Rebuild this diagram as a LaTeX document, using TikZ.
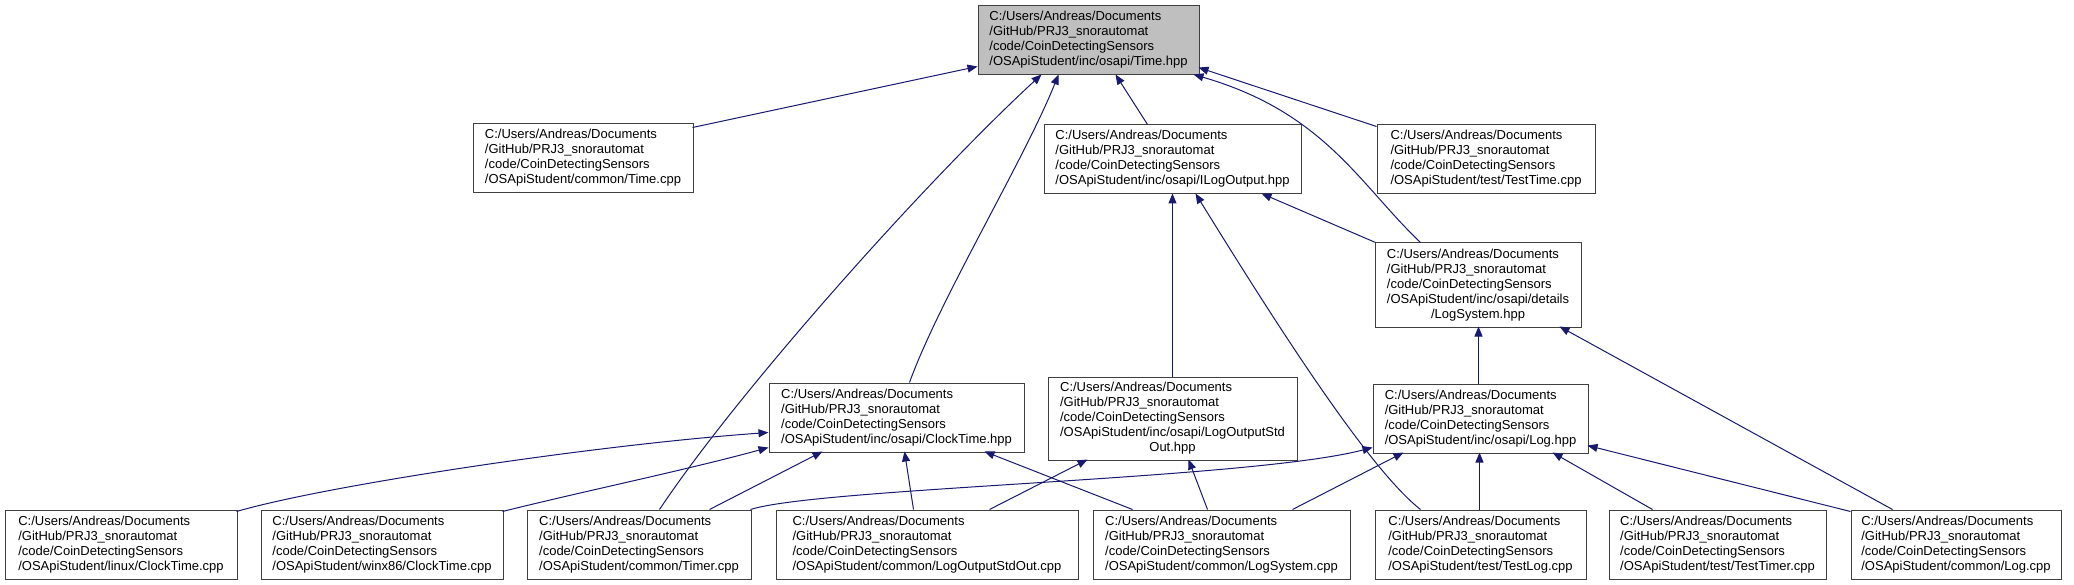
\documentclass[tikz,border=0pt]{standalone}
\usepackage{fontspec}
\setmainfont{Liberation Sans}
\usetikzlibrary{arrows.meta}
\definecolor{edgeblue}{RGB}{25,25,112}
\definecolor{boxline}{RGB}{64,64,64}
\definecolor{rootfill}{RGB}{191,191,191}
\newcommand\boxlbl[1]{\begin{tabular}{@{}l@{}}#1\end{tabular}}
\newcommand\pa{C:/Users/Andreas/Documents\\/GitHub/PRJ3\_snorautomat\\/code/CoinDetectingSensors\\}
\begin{document}
\begin{tikzpicture}[x=1pt,y=-1pt,
  filebox/.style={draw=boxline,line width=1pt,fill=white,rectangle,inner sep=0pt,
     font=\fontsize{13}{15}\selectfont,minimum height=69pt},
  dep/.style={draw=edgeblue,line width=1pt,-{Triangle[length=10pt,width=8pt]},fill=none}]
\useasboundingbox[fill=white] (0,0) rectangle (2074,585);
% nodes
\node[filebox,fill=rootfill,minimum width=221pt] (timehpp) at (1088.5,40.5) {\boxlbl{\pa/OSApiStudent/inc/osapi/Time.hpp}};
\node[filebox,minimum width=220pt] (timecpp) at (583,158.5) {\boxlbl{\pa/OSApiStudent/common/Time.cpp}};
\node[filebox,minimum width=257pt] (ilogout) at (1172.5,159.5) {\boxlbl{\pa/OSApiStudent/inc/osapi/ILogOutput.hpp}};
\node[filebox,minimum width=218pt] (testtime) at (1486,159.5) {\boxlbl{\pa/OSApiStudent/test/TestTime.cpp}};
\node[filebox,minimum width=206pt,minimum height=84pt] (logsyshpp) at (1478,285) {\boxlbl{\pa/OSApiStudent/inc/osapi/details\\\multicolumn{1}{@{}c@{}}{/LogSystem.hpp}}};
\node[filebox,minimum width=255pt] (clockhpp) at (896.5,417.5) {\boxlbl{\pa/OSApiStudent/inc/osapi/ClockTime.hpp}};
\node[filebox,minimum width=249pt,minimum height=83pt] (stdouthpp) at (1172.5,418.5) {\boxlbl{\pa/OSApiStudent/inc/osapi/LogOutputStd\\\multicolumn{1}{@{}c@{}}{Out.hpp}}};
\node[filebox,minimum width=215pt] (loghpp) at (1480.5,418.5) {\boxlbl{\pa/OSApiStudent/inc/osapi/Log.hpp}};
\node[filebox,minimum width=232pt] (linux) at (121,544.5) {\boxlbl{\pa/OSApiStudent/linux/ClockTime.cpp}};
\node[filebox,minimum width=242pt] (winx) at (382,544.5) {\boxlbl{\pa/OSApiStudent/winx86/ClockTime.cpp}};
\node[filebox,minimum width=224pt] (timer) at (639,544.5) {\boxlbl{\pa/OSApiStudent/common/Timer.cpp}};
\node[filebox,minimum width=302pt] (stdoutcpp) at (927,544.5) {\boxlbl{\pa/OSApiStudent/common/LogOutputStdOut.cpp}};
\node[filebox,minimum width=257pt] (logsyscpp) at (1221.5,544.5) {\boxlbl{\pa/OSApiStudent/common/LogSystem.cpp}};
\node[filebox,minimum width=211pt] (testlog) at (1480.5,544.5) {\boxlbl{\pa/OSApiStudent/test/TestLog.cpp}};
\node[filebox,minimum width=217pt] (testtimer) at (1717.5,544.5) {\boxlbl{\pa/OSApiStudent/test/TestTimer.cpp}};
\node[filebox,minimum width=210pt] (logcpp) at (1956,544.5) {\boxlbl{\pa/OSApiStudent/common/Log.cpp}};
% edges to Time.hpp
\draw[dep] ([xshift=220pt,yshift=-4pt]timecpp.north west) -- ([yshift=-61pt]timehpp.north west);
\draw[dep] ([xshift=133pt]timer.north west) .. controls +(80,-120) and +(-114,105) .. ([xshift=64pt,yshift=-69pt]timehpp.north west);
\draw[dep] ([xshift=141pt]clockhpp.north west) .. controls +(30,-83) and +(-34,85) .. ([xshift=81pt,yshift=-69pt]timehpp.north west);
\draw[dep] ([xshift=104pt]ilogout.north west) -- ([xshift=138pt,yshift=-69pt]timehpp.north west);
\draw[dep] ([xshift=46pt]logsyshpp.north west) .. controls +(-61,-58) and +(131,38) .. ([xshift=216pt,yshift=-69pt]timehpp.north west);
\draw[dep] ([yshift=-2pt]testtime.north west) -- ([xshift=221pt,yshift=-62pt]timehpp.north west);
% edges to ILogOutput.hpp
\draw[dep] ([xshift=125pt]stdouthpp.north west) -- ([xshift=129pt,yshift=-69pt]ilogout.north west);
\draw[dep] ([xshift=46pt]testlog.north west) .. controls +(-51,-40) and +(84,136) .. ([xshift=152pt,yshift=-69pt]ilogout.north west);
\draw[dep] ([xshift=1pt]logsyshpp.north west) -- ([xshift=218pt,yshift=-69pt]ilogout.north west);
% edges to LogSystem.hpp
\draw[dep] ([xshift=106pt]loghpp.north west) -- ([xshift=104pt,yshift=-84pt]logsyshpp.north west);
\draw[dep] ([xshift=42pt]logcpp.north west) -- ([xshift=185pt,yshift=-84pt]logsyshpp.north west);
% edges to ClockTime.hpp
\draw[dep] ([xshift=232pt,yshift=-2pt]linux.north west) .. controls +(93,-27) and +(-169,12) .. ([yshift=-50pt]clockhpp.north west);
\draw[dep] ([xshift=242pt,yshift=-2pt]winx.north west) .. controls +(80,-20) and +(-80,22) .. ([yshift=-65pt]clockhpp.north west);
\draw[dep] ([xshift=183pt]timer.north west) -- ([xshift=54pt,yshift=-69pt]clockhpp.north west);
\draw[dep] ([xshift=138pt]stdoutcpp.north west) -- ([xshift=136pt,yshift=-69pt]clockhpp.north west);
\draw[dep] ([xshift=40pt]logsyscpp.north west) -- ([xshift=216pt,yshift=-69pt]clockhpp.north west);
% edges to LogOutputStdOut.hpp
\draw[dep] ([xshift=214pt]stdoutcpp.north west) -- ([xshift=40pt,yshift=-83pt]stdouthpp.north west);
\draw[dep] ([xshift=115pt]logsyscpp.north west) -- ([xshift=141pt,yshift=-83pt]stdouthpp.north west);
% edges to Log.hpp
\draw[dep] ([xshift=224pt]timer.north west) .. controls +(69,-22) and +(-123,32) .. ([yshift=-64pt]loghpp.north west);
\draw[dep] ([xshift=200pt]logsyscpp.north west) -- ([xshift=31pt,yshift=-69pt]loghpp.north west);
\draw[dep] ([xshift=105pt]testlog.north west) -- ([xshift=107pt,yshift=-69pt]loghpp.north west);
\draw[dep] ([xshift=44pt]testtimer.north west) -- ([xshift=180pt,yshift=-69pt]loghpp.north west);
\draw[dep] ([yshift=-2pt]logcpp.north west) -- ([xshift=215pt,yshift=-62pt]loghpp.north west);
\end{tikzpicture}
\end{document}
